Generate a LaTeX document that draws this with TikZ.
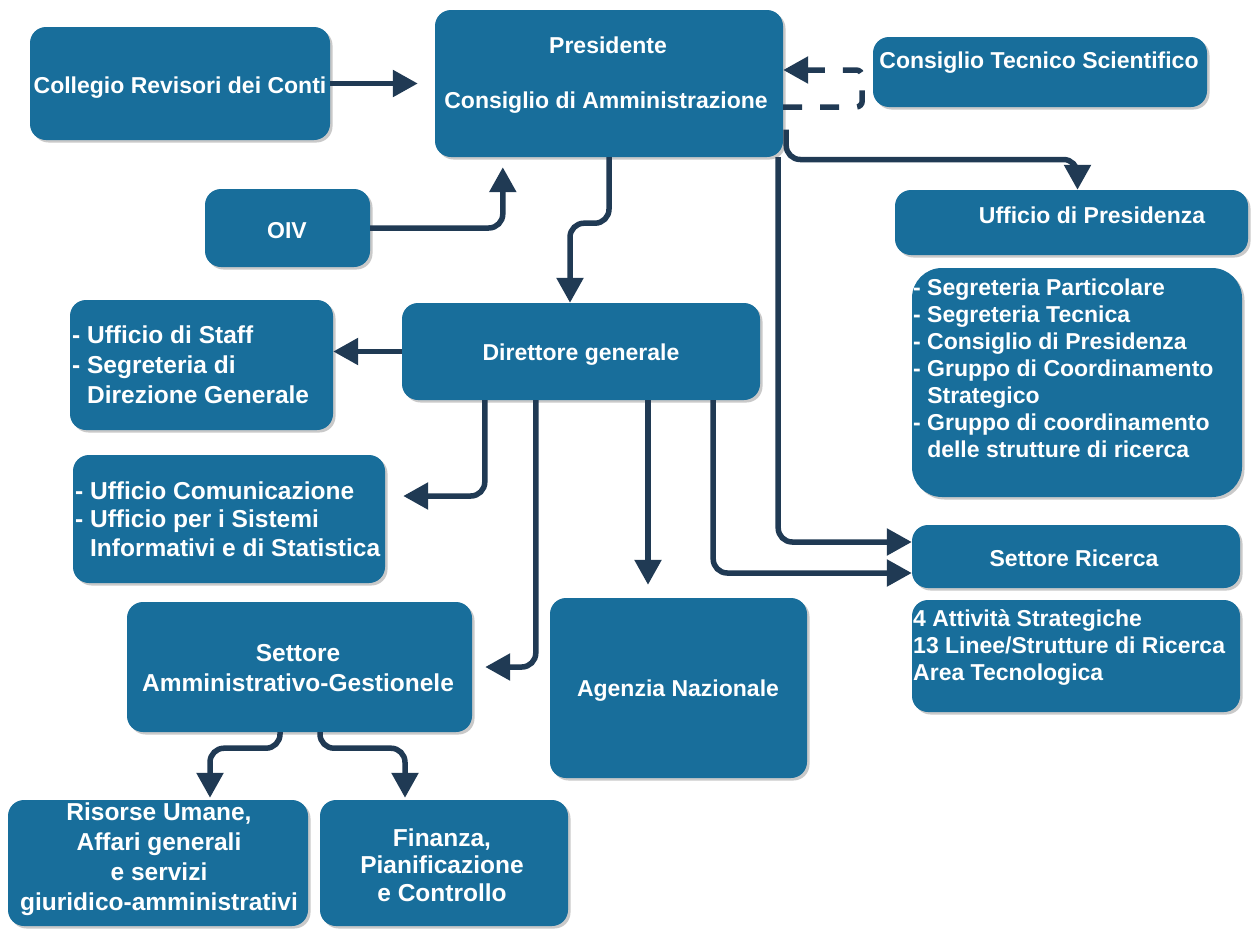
\documentclass[tikz,border=0pt]{standalone}
\usepackage{fontspec}
\setmainfont{Liberation Sans}
\usetikzlibrary{arrows.meta,shadows}
\definecolor{boxblue}{RGB}{24,110,155}
\definecolor{arrowc}{RGB}{32,58,84}
\begin{document}
\begin{tikzpicture}[x=1pt,y=-1pt,
  box/.style={rectangle, rounded corners=16pt, fill=boxblue, draw=none, inner sep=0pt,
    drop shadow={shadow xshift=2.5pt, shadow yshift=-2.5pt, opacity=0.35, fill=black!60}},
  txt/.style={text=white, inner sep=0pt, font=\bfseries\fontsize{23}{27}\selectfont},
  big/.style={font=\bfseries\fontsize{24.5}{30}\selectfont},
  conn/.style={draw=arrowc, line width=5.5pt, rounded corners=14pt, -{Triangle[length=25pt,width=26pt]}},
]
\fill[white] (0,0) rectangle (1255,929);
\useasboundingbox (0,0) rectangle (1255,929);

% boxes
\node[box, minimum width=300pt, minimum height=113pt] (coll) at (180,83.5) {};
\node[box, minimum width=348pt, minimum height=147pt] (pres) at (609,83.5) {};
\node[box, minimum width=334pt, minimum height=70pt] (cts) at (1040,72) {};
\node[box, minimum width=165pt, minimum height=78pt] (oiv) at (287.5,228) {};
\node[box, minimum width=353pt, minimum height=65pt] (upres) at (1071.5,222.5) {};
\node[box, rounded corners=30pt, minimum width=330pt, minimum height=229pt] (segr) at (1077,382.5) {};
\node[box, minimum width=358pt, minimum height=97pt] (dg) at (581,351.5) {};
\node[box, minimum width=263pt, minimum height=130pt] (staff) at (201.5,365) {};
\node[box, minimum width=312pt, minimum height=128pt] (ucom) at (229,519) {};
\node[box, minimum width=328pt, minimum height=63pt] (sric) at (1076,556.5) {};
\node[box, minimum width=328pt, minimum height=112pt] (attiv) at (1076,656) {};
\node[box, minimum width=257pt, minimum height=180pt] (agenz) at (678.5,688) {};
\node[box, minimum width=345pt, minimum height=130pt] (samm) at (299.5,667) {};
\node[box, minimum width=300pt, minimum height=126pt] (ris) at (158,863) {};
\node[box, minimum width=248pt, minimum height=126pt] (fin) at (444,863) {};

% texts (multi-line nodes: anchor at the baseline of the last line)
\node[txt, anchor=base] (collT) at (180,93) {Collegio Revisori dei Conti};
\node[txt, anchor=base] (presT1) at (608,53) {Presidente};
\node[txt, anchor=base] (presT2) at (606,108) {Consiglio di Amministrazione};
\node[txt, anchor=base] (ctsT) at (1039,68) {Consiglio Tecnico Scientifico};
\node[txt, anchor=base] (oivT) at (287,238) {OIV};
\node[txt, anchor=base] (upresT) at (1092,223) {Ufficio di Presidenza};
\node[txt, anchor=base west, align=left] (segrT) at (913,457)
  {- Segreteria Particolare\\- Segreteria Tecnica\\- Consiglio di Presidenza\\- Gruppo di Coordinamento\\\phantom{- }Strategico\\- Gruppo di coordinamento\\\phantom{- }delle strutture di ricerca};
\node[txt, anchor=base] (dgT) at (581,360) {Direttore generale};
\node[txt, big, anchor=base west, align=left] (staffT) at (72,403)
  {- Ufficio di Staff\\- Segreteria di\\\phantom{- }Direzione Generale};
\node[txt, anchor=base west, align=left, font=\bfseries\fontsize{24.5}{28.5}\selectfont] (ucomT) at (75,556)
  {- Ufficio Comunicazione\\- Ufficio per i Sistemi\\\phantom{- }Informativi e di Statistica};
\node[txt, anchor=base] (sricT) at (1074,566) {Settore Ricerca};
\node[txt, anchor=base west, align=left] (attivT) at (913,680)
  {4 Attività Strategiche\\13 Linee/Strutture di Ricerca\\Area Tecnologica};
\node[txt, anchor=base] (agenzT) at (678,696) {Agenzia Nazionale};
\node[txt, big, anchor=base, align=center] (sammT) at (298,691) {Settore\\Amministrativo-Gestionele};
\node[txt, anchor=base, align=center, font=\bfseries\fontsize{24.5}{29.7}\selectfont] (risT) at (159,910)
  {Risorse Umane,\\Affari generali\\e servizi\\giuridico-amministrativi};
\node[txt, anchor=base, align=center, font=\bfseries\fontsize{24.5}{27.5}\selectfont] (finT) at (442,901)
  {Finanza,\\Pianificazione\\e Controllo};

% connectors
\draw[conn, shorten >=17pt] (coll) -- (pres);
\draw[conn] (oiv.east) -| ([xshift=68pt,yshift=-10pt]pres.south west);
\draw[conn, dash pattern=on 19pt off 18pt, rounded corners=6pt] ([yshift=-23.5pt]pres.east) -- ++(79,0) |- ([yshift=13.5pt]pres.east);
\draw[conn] ([xshift=3pt,yshift=-46pt]pres.east) -- ++(0,30) -| ([xshift=6pt]upres.north);
\draw[conn] ([xshift=-5pt]pres.south east) |- ([yshift=14.5pt]sric.west);
\draw[conn] (pres.south) -- ++(0,66) -| ([xshift=-11pt]dg.north);
\draw[conn] (dg.west) -- (dg.west -| staff.east);
\draw[conn] ([xshift=83pt]dg.south west) |- ([xshift=18pt,yshift=23pt]ucom.east);
\draw[conn] ([xshift=134pt]dg.south west) |- ([xshift=13pt]samm.east);
\draw[conn] ([xshift=67pt]dg.south) -- ([xshift=-30.5pt,yshift=13pt]agenz.north);
\draw[conn] ([xshift=-47pt]dg.south east) |- ([yshift=-16.5pt]sric.west);
\draw[conn] ([xshift=-19.5pt]samm.south) -- ++(0,16) -| ([xshift=52pt,yshift=2pt]ris.north);
\draw[conn] ([xshift=20.5pt]samm.south) -- ++(0,16) -| ([xshift=-39pt,yshift=2pt]fin.north);
\end{tikzpicture}
\end{document}
